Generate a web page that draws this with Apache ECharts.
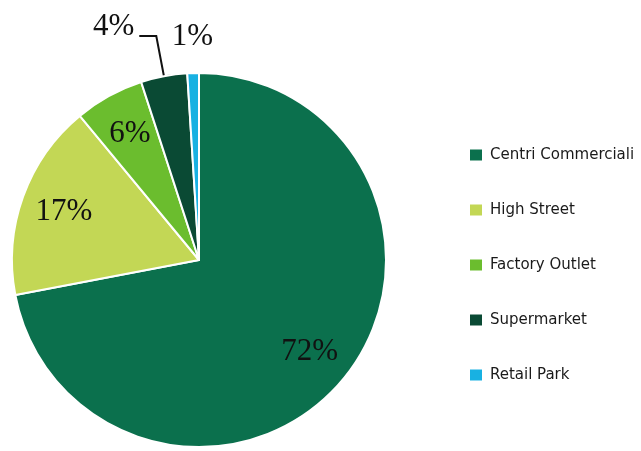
<!DOCTYPE html>
<html>
<head>
<meta charset="utf-8">
<script src="https://cdn.jsdelivr.net/npm/echarts@6/dist/echarts.min.js"></script>
<style>
  html, body { margin: 0; padding: 0; background: #fff; }
  #pie { width: 641px; height: 451px; }
</style>
</head>
<body>
<div id="pie"></div>
<script>
// 数据
var categories = ['Centri Commerciali', 'High Street', 'Factory Outlet', 'Supermarket', 'Retail Park'];
var shares = [72, 17, 6, 4, 1];
var colors = ['#0b704d', '#c3d755', '#6bbd2e', '#0a4a34', '#18b1e2'];
var insideLabel = [true, true, true, false, false];

var pie = echarts.init(document.getElementById('pie'));

var mainData = [];
var labelData = [];
for (var i = 0; i < categories.length; i++) {
    var outside = !insideLabel[i];
    var item = {
        name: categories[i],
        value: shares[i],
        label: { show: outside },
        labelLine: { show: i === 3 }
    };
    if (i === 3) {
        // 文字略高于引导线
        item.label.formatter = '{c}%\n ';
        item.label.lineHeight = 18;
        item.labelLine.length = 41;
    }
    if (i === 4) {
        item.labelLine.length = 36;
        item.labelLine.length2 = 0;
    }
    mainData.push(item);
    labelData.push({
        name: categories[i],
        value: shares[i],
        label: { show: insideLabel[i] }
    });
}

var option = {
    color: colors,
    legend: {
        orient: 'vertical',
        left: 463,
        top: 140,
        itemWidth: 14,
        itemHeight: 13,
        itemGap: 35,
        icon: 'rect',
        data: categories,
        textStyle: {
            fontFamily: '"DejaVu Sans Condensed", sans-serif',
            fontSize: 16.7,
            lineHeight: 20,
            color: '#1a1a1a',
            padding: [0, 0, 0, 2]
        }
    },
    series: [
        {
            name: 'share',
            type: 'pie',
            center: [199, 260],
            radius: 187,
            startAngle: 90,
            clockwise: true,
            silent: true,
            avoidLabelOverlap: false,
            itemStyle: { borderColor: '#fff', borderWidth: 2 },
            label: {
                position: 'outside',
                formatter: '{c}%',
                fontFamily: '"Liberation Serif", serif',
                fontSize: 31,
                color: '#111'
            },
            labelLine: {
                length: 38,
                length2: 17,
                lineStyle: { color: '#111', width: 2 }
            },
            labelLayout: function (params) {
                if (params.dataIndex === 4) {
                    return { dx: 26 };
                }
            },
            data: mainData
        },
        {
            name: 'labels',
            type: 'pie',
            center: [199, 260],
            radius: [94, 187],
            startAngle: 90,
            clockwise: true,
            silent: true,
            itemStyle: { color: 'rgba(0,0,0,0)' },
            label: {
                position: 'inside',
                formatter: '{c}%',
                fontFamily: '"Liberation Serif", serif',
                fontSize: 31,
                color: '#111'
            },
            labelLine: { show: false },
            data: labelData
        }
    ]
};

pie.setOption(option);
</script>
</body>
</html>
